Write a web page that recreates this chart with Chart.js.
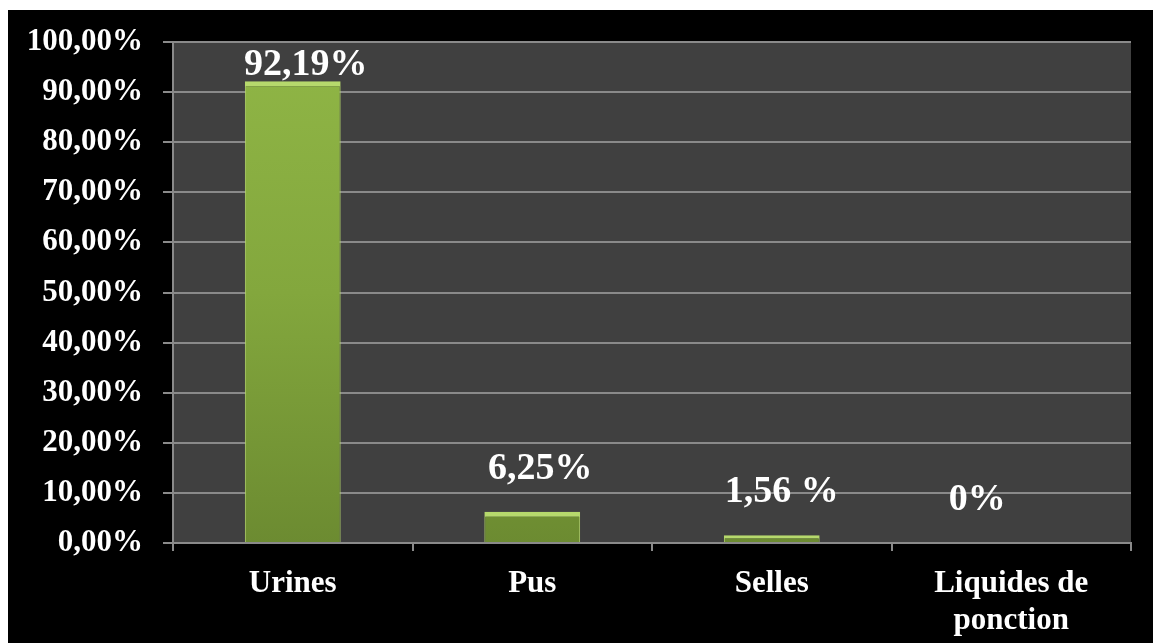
<!DOCTYPE html>
<html lang="fr">
<head>
  <meta charset="UTF-8" />
  <title>Répartition des prélèvements</title>
  <script src="https://cdn.jsdelivr.net/npm/chart.js"></script>
  <style>
    html, body { margin: 0; padding: 0; background: #fff; }
    #frame {
      position: absolute; left: 8px; top: 10px;
      width: 1145px; height: 633px; background: #000;
    }
  </style>
</head>
<body>
  <div id="frame"><canvas id="chart" width="1145" height="633"></canvas></div>

  <script>
    // Sample types and their share (%)
    const categories = ['Urines', 'Pus', 'Selles', ['Liquides de', 'ponction']];
    const percentages = [92.19, 6.25, 1.56, 0];
    const valueLabels = ['92,19%', '6,25%', '1,56 %', '0%'];
    const yTicks = { min: 0, max: 100, step: 10 };

    const FONT = '"Liberation Serif", "Times New Roman", serif';

    // dark grey plot background
    const plotBackground = {
      id: 'plotBackground',
      beforeDraw(chart) {
        const { ctx, chartArea: a } = chart;
        ctx.save();
        ctx.fillStyle = '#404040';
        ctx.fillRect(a.left, a.top, a.right - a.left, a.bottom - a.top);
        ctx.restore();
      }
    };

    // value text above each bar
    const barValues = {
      id: 'barValues',
      afterDatasetsDraw(chart, args, opts) {
        const { ctx, chartArea } = chart;
        const bars = chart.getDatasetMeta(0).data;
        ctx.save();
        ctx.font = 'bold 38px ' + FONT;
        ctx.fillStyle = '#fff';
        ctx.textAlign = 'center';
        ctx.textBaseline = 'middle';
        bars.forEach((bar, i) => {
          const y = Math.max(bar.y - 43, chartArea.top + 23);
          ctx.fillText(valueLabels[i], bar.x + opts.dx[i], y);
        });
        ctx.restore();
      }
    };

    function barFill(context) {
      const { ctx, chartArea } = context.chart;
      if (!chartArea) return '#84a83e';
      const g = ctx.createLinearGradient(0, chartArea.top, 0, chartArea.bottom);
      g.addColorStop(0, '#90b646');
      g.addColorStop(0.5, '#83a73d');
      g.addColorStop(1, '#6c8b31');
      return g;
    }

    new Chart(document.getElementById('chart'), {
      type: 'bar',
      data: {
        labels: categories,
        datasets: [{
          data: percentages,
          backgroundColor: barFill,
          borderColor: '#b6d96c',
          borderWidth: { top: 5, left: 1, right: 1, bottom: 0 },
          borderSkipped: false,
          barPercentage: 0.4,
          categoryPercentage: 1
        }]
      },
      plugins: [plotBackground, barValues],
      options: {
        responsive: false,
        animation: false,
        layout: { padding: { top: 32, right: 22, left: 0, bottom: 0 } },
        plugins: {
          legend: { display: false },
          tooltip: { enabled: false },
          barValues: { dx: [13, 8, 10, -34] }
        },
        scales: {
          x: {
            offset: true,
            grid: {
              offset: true,
              drawOnChartArea: false,
              drawTicks: true,
              tickLength: 8,
              color: '#8a8a8a',
              lineWidth: 2
            },
            border: { color: '#8a8a8a', width: 2 },
            ticks: {
              color: '#fff',
              padding: 14,
              maxRotation: 0,
              autoSkip: false,
              font: { family: FONT, size: 31, weight: 'bold', lineHeight: 1.2 }
            },
            afterFit(scale) { scale.height = 100; }
          },
          y: {
            min: yTicks.min,
            max: yTicks.max,
            grid: {
              color: '#8a8a8a',
              lineWidth: 2,
              tickLength: 10
            },
            border: { color: '#8a8a8a', width: 2 },
            ticks: {
              stepSize: yTicks.step,
              color: '#fff',
              padding: 20,
              font: { family: FONT, size: 31, weight: 'bold' },
              callback: v => v.toFixed(2).replace('.', ',') + '%'
            },
            afterFit(scale) {
              scale.width = 165;
              scale.paddingTop = 0;
              scale.paddingBottom = 0;
            }
          }
        }
      }
    });
  </script>
</body>
</html>
